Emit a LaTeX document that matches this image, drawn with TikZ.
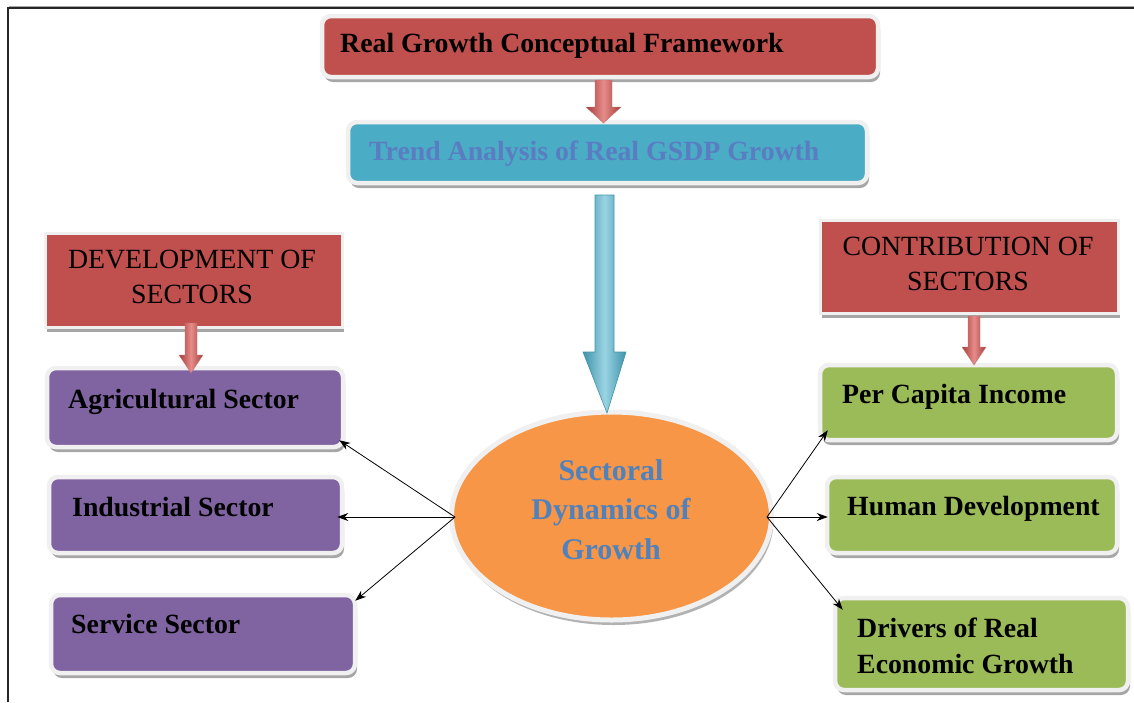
\documentclass[tikz,border=0pt]{standalone}
\usepackage{fontspec}
\setmainfont{Liberation Serif}
\usetikzlibrary{shapes.geometric,shadows,calc,arrows.meta}
\definecolor{cRed}{HTML}{C0504D}
\definecolor{cTeal}{HTML}{4BACC6}
\definecolor{cPurple}{HTML}{8064A2}
\definecolor{cGreen}{HTML}{9BBB59}
\definecolor{cOrange}{HTML}{F79646}
\definecolor{cBlue}{HTML}{4F81BD}
\definecolor{cTrend}{HTML}{5A7DC2}
\definecolor{cTealLight}{HTML}{9AD4E3}
\definecolor{cTealDark}{HTML}{3F93AB}
\definecolor{cRedLight}{HTML}{E58C8A}
\definecolor{cRedDark}{HTML}{A63C39}
\begin{document}
\begin{tikzpicture}[x=1pt,y=-1pt,
  boxbase/.style={draw=white!94!black, line width=4.5pt, inner sep=0pt,
    drop shadow={shadow xshift=2pt,shadow yshift=-5pt,fill=black,opacity=0.35}},
  roundbox/.style={boxbase, rounded corners=9pt},
  squarebox/.style={boxbase, line width=3pt},
  txtb/.style={anchor=base west, inner sep=0pt, font=\fontsize{27.8}{33}\selectfont\bfseries},
  txtr/.style={anchor=base, inner sep=0pt, font=\fontsize{27.8}{33}\selectfont},
  txte/.style={anchor=base, inner sep=0pt, text=cBlue, font=\fontsize{30}{33}\selectfont\bfseries},
  conn/.style={-{Stealth[length=11pt,width=8pt]}, line width=0.8pt, black},
  redarrow/.style={left color=cRedDark, right color=cRedDark, middle color=cRedLight},
]
\useasboundingbox (0,0) rectangle (1134,702);
% frame lines
\draw[line width=1.4pt, black!85] (8,702) coordinate (fl) -- (8,8) coordinate (fc) -- (1134,8) coordinate (fr);
\draw[line width=0.8pt, black!35] (9,6.5) coordinate (gl) -- (1134,6.5) coordinate (gr);

% boxes
\node[roundbox, fill=cRed, minimum width=556, minimum height=61] (title) at (600,46.5) {};
\node[roundbox, fill=cTeal, minimum width=519, minimum height=61] (trend) at (607.5,152.5) {};
\node[squarebox, fill=cRed, minimum width=297, minimum height=94] (dev) at (193.5,280) {};
\node[squarebox, fill=cRed, minimum width=298, minimum height=93] (contrib) at (969,266.5) {};
\node[roundbox, fill=cPurple, minimum width=296, minimum height=79] (agri) at (195,407.5) {};
\node[roundbox, fill=cPurple, minimum width=293, minimum height=76] (ind) at (195.5,515) {};
\node[roundbox, fill=cPurple, minimum width=304, minimum height=78] (serv) at (203,634) {};
\node[roundbox, fill=cGreen, minimum width=297, minimum height=75] (per) at (968.5,402.5) {};
\node[roundbox, fill=cGreen, minimum width=290, minimum height=76] (human) at (972,515) {};
\node[roundbox, fill=cGreen, minimum width=293, minimum height=92] (drivers) at (981.5,644) {};
\node[ellipse, draw=white!94!black, line width=5pt, fill=cOrange, minimum width=320, minimum height=208,
  drop shadow={shadow xshift=2pt,shadow yshift=-5pt,fill=black,opacity=0.3}] (ell) at (611.5,516) {};

% texts
\node[txtb] (tTitle) at (340,52) {Real Growth Conceptual Framework};
\node[txtb, text=cTrend] (tTrend) at (369,160) {Trend Analysis of Real GSDP Growth};
\node[txtr] (tDev1) at (192,268) {DEVELOPMENT OF};
\node[txtr] (tDev2) at (192,303) {SECTORS};
\node[txtr] (tCon1) at (968,255) {CONTRIBUTION OF};
\node[txtr] (tCon2) at (968,290) {SECTORS};
\node[txtb] (tAgri) at (68,408) {Agricultural Sector};
\node[txtb] (tInd) at (72,516) {Industrial Sector};
\node[txtb] (tServ) at (71,633) {Service Sector};
\node[txtb] (tPer) at (842,403) {Per Capita Income};
\node[txtb] (tHum) at (847,515) {Human Development};
\node[txtb] (tDr1) at (857,637) {Drivers of Real};
\node[txtb] (tDr2) at (857,673) {Economic Growth};
\node[txte] (tE1) at (611,480) {Sectoral};
\node[txte] (tE2) at (611,519) {Dynamics of};
\node[txte] (tE3) at (611,559) {Growth};

% block arrows
\shade[redarrow, draw=cRedDark!70, line width=0.4pt]
  (595,80) -- (612,80) -- (612,107) -- (621,107) -- (603.5,123) -- (586,107) -- (595,107) -- cycle;
\shade[redarrow, draw=cRedDark!70, line width=0.4pt]
  (185,323) -- (197,323) -- (197,355) -- (203,355) -- (191,373) -- (179,355) -- (185,355) -- cycle;
\shade[redarrow, draw=cRedDark!70, line width=0.4pt]
  (968,316) -- (980,316) -- (980,347) -- (986,347) -- (974,365) -- (962,347) -- (968,347) -- cycle;
\shade[left color=cTealDark, right color=cTealDark, middle color=cTealLight, draw=cTealDark, line width=0.6pt]
  (595,195) -- (614,195) -- (614,352) -- (626,352) -- (607,413) -- (583,352) -- (595,352) -- cycle;

% connectors
\coordinate (eL) at ($(ell.west)+(6,1)$);
\coordinate (eR) at ($(ell.east)+(-7,1)$);
\draw[conn] (eL) -- ($(agri.south east)+(-6,-9)$);
\draw[conn] (eL) -- ($(ind.east)+(-7,2)$);
\draw[conn] (eL) -- ($(serv.north east)+(-2,8)$);
\draw[conn] (eR) -- ($(per.south west)+(10,-12)$);
\draw[conn] (eR) -- ($(human.west)+(3,2)$);
\draw[conn] (eR) -- ($(drivers.north west)+(10,14)$);
\end{tikzpicture}
\end{document}
